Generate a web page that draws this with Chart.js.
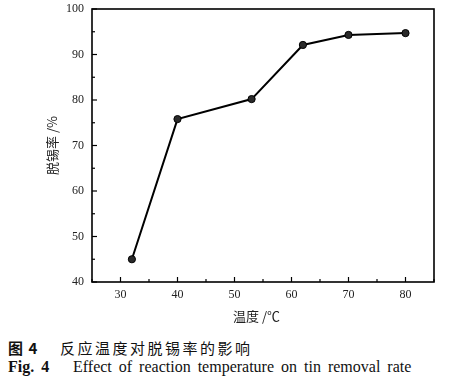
<!DOCTYPE html>
<html>
<head>
<meta charset="utf-8">
<script src="https://cdn.jsdelivr.net/npm/chart.js@4"></script>
<style>
  body { margin: 0; background: #fff; }
  #wrap { position: relative; width: 450px; height: 381px; }
  #box { position: absolute; left: 0; top: 0; width: 450px; height: 330px; }
  .cap { position: absolute; left: 8px; white-space: nowrap; color: #111; }
  .cap b { display: inline-block; }
  #capCn { top: 337px; font-family: "Noto Sans CJK SC", sans-serif; font-size: 15px; letter-spacing: 2.5px; }
  #capCn b { width: 52px; letter-spacing: 1px; }
  #capEn { top: 358px; font-family: "Liberation Serif", serif; font-size: 16px; word-spacing: 3px; }
  #capEn b { width: 65px; }
</style>
</head>
<body>
<div id="wrap">
  <div id="box"><canvas id="chart" width="450" height="330"></canvas></div>
  <div class="cap" id="capCn"><b>图 4</b>反应温度对脱锡率的影响</div>
  <div class="cap" id="capEn"><b>Fig. 4</b>Effect of reaction temperature on tin removal rate</div>
</div>
<script>
// datos
const temperaturas = [32, 40, 53, 62, 70, 80];
const tasaRemocion = [45, 75.8, 80.2, 92.1, 94.3, 94.7];
const xTicks = [30, 40, 50, 60, 70, 80];
const yTicks = [40, 50, 60, 70, 80, 90, 100];

const serif = "Liberation Serif";

// marco y marcas hacia adentro
const marcoPlugin = {
  id: "marco",
  afterDraw(c) {
    const { ctx, chartArea: a, scales } = c;
    ctx.save();
    ctx.strokeStyle = "#000";
    ctx.lineWidth = 1.6;
    ctx.strokeRect(a.left, a.top, a.right - a.left, a.bottom - a.top);
    ctx.lineWidth = 1.2;
    scales.x.ticks.forEach(t => {
      const px = scales.x.getPixelForValue(t.value);
      const len = t.value % 10 === 0 ? 5 : 3;
      ctx.beginPath();
      ctx.moveTo(px, a.bottom);
      ctx.lineTo(px, a.bottom - len);
      ctx.stroke();
    });
    scales.y.ticks.forEach(t => {
      const py = scales.y.getPixelForValue(t.value);
      const len = t.value % 10 === 0 ? 5 : 3;
      ctx.beginPath();
      ctx.moveTo(a.left, py);
      ctx.lineTo(a.left + len, py);
      ctx.stroke();
    });
    ctx.restore();
  }
};

new Chart(document.getElementById("chart"), {
  type: "line",
  data: {
    datasets: [{
      data: temperaturas.map((t, i) => ({ x: t, y: tasaRemocion[i] })),
      borderColor: "#000",
      borderWidth: 2,
      pointRadius: 3.6,
      pointBackgroundColor: "#2a2a2a",
      pointBorderColor: "#000",
      pointBorderWidth: 1,
      tension: 0
    }]
  },
  options: {
    responsive: false,
    animation: false,
    layout: { padding: { left: 44, top: 9, right: 16, bottom: 0 } },
    plugins: { legend: { display: false }, tooltip: { enabled: false } },
    scales: {
      x: {
        type: "linear",
        min: 25, max: 85,
        afterFit: s => { s.height = 48; },
        grid: { display: false, drawTicks: false },
        border: { display: false },
        ticks: {
          stepSize: 5,
          padding: 6,
          color: "#222",
          font: { family: serif, size: 12 },
          autoSkip: false,
          maxRotation: 0,
          callback: v => xTicks.includes(v) ? v : ""
        },
        title: {
          display: true,
          text: "温度 /℃\u3000",
          color: "#222",
          font: { family: "Noto Sans CJK SC", size: 13 },
          padding: { top: 0, bottom: 6 }
        }
      },
      y: {
        min: 40, max: 100,
        // sin relleno extra arriba/abajo para fijar el área del gráfico
        afterFit: s => { s.width = 92 - 44; s.paddingTop = 0; s.paddingBottom = 0; },
        grid: { display: false, drawTicks: false },
        border: { display: false },
        ticks: {
          stepSize: 5,
          padding: 8,
          color: "#222",
          font: { family: serif, size: 12 },
          autoSkip: false,
          callback: v => yTicks.includes(v) ? v : ""
        },
        title: {
          display: true,
          text: "脱锡率 /%",
          color: "#222",
          font: { family: "Noto Sans CJK SC", size: 13 },
          padding: { top: 0, bottom: 0 }
        }
      }
    }
  },
  plugins: [marcoPlugin]
});
</script>
</body>
</html>
